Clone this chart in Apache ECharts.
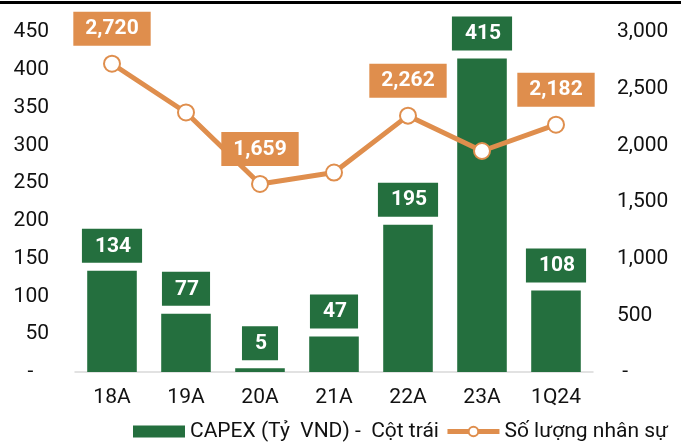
<!DOCTYPE html>
<html>
<head>
<meta charset="utf-8">
<script src="https://cdn.jsdelivr.net/npm/echarts@6/dist/echarts.min.js"></script>
<style>
  html, body { margin: 0; padding: 0; background: #fff; }
  #chart { width: 681px; height: 448px; }
</style>
</head>
<body>
<div id="chart"></div>
<script>
const categories = ['18A', '19A', '20A', '21A', '22A', '23A', '1Q24'];
const capex = [134, 77, 5, 47, 195, 415, 108];
const staff = [2720, 2290, 1659, 1760, 2262, 1950, 2182];
const staffLabelShown = [true, false, true, false, true, false, true];

const GREEN = '#246f3e';
const ORANGE = '#df8e4d';
const FONT = 'Roboto';

function fmt(v) {
  return v === 0 ? '-' : v.toLocaleString('en-US');
}

let chart = echarts.init(document.getElementById('chart'));
chart.setOption({
  animation: false,
  textStyle: { fontFamily: FONT },
  grid: { left: 75, right: 88, top: 32, bottom: 76 },
  graphic: [{
    type: 'rect',
    shape: { x: 0, y: 1, width: 681, height: 3 },
    style: { fill: '#000' }
  }],
  legend: {
    bottom: 1,
    left: 133,
    padding: [5, 0, 5, 0],
    itemGap: 6,
    itemWidth: 52,
    itemHeight: 12,
    textStyle: { fontSize: 21, color: '#111', fontFamily: FONT },
    data: [
      { name: 'CAPEX (Tỷ  VND) -  Cột trái', icon: 'rect' },
      {
        name: 'Số lượng nhân sự',
        lineStyle: { width: 5, color: ORANGE },
        itemStyle: { color: '#fff', borderColor: ORANGE, borderWidth: 2 }
      }
    ]
  },
  xAxis: {
    type: 'category',
    data: categories,
    axisTick: { show: false },
    axisLine: { lineStyle: { color: '#d9d9d9', width: 1.5 } },
    axisLabel: { color: '#111', fontSize: 21, margin: 15 }
  },
  yAxis: [{
    type: 'value',
    min: 0, max: 450, interval: 50,
    splitLine: { show: false },
    axisLine: { show: false },
    axisTick: { show: false },
    axisLabel: {
      color: '#111', fontSize: 21, margin: 26,
      formatter: v => v === 0 ? '-   ' : fmt(v)
    }
  }, {
    type: 'value',
    min: 0, max: 3000, interval: 500,
    splitLine: { show: false },
    axisLine: { show: false },
    axisTick: { show: false },
    axisLabel: {
      color: '#111', fontSize: 21, margin: 24, align: 'left',
      formatter: v => v === 0 ? ' -' : fmt(v)
    }
  }],
  series: [{
    name: 'CAPEX (Tỷ  VND) -  Cột trái',
    type: 'bar',
    data: capex,
    barCategoryGap: '33%',
    itemStyle: { color: GREEN },
    label: {
      show: true,
      position: 'top',
      distance: 8,
      backgroundColor: GREEN,
      color: '#fff',
      fontWeight: 'bold',
      fontSize: 21,
      padding: [7, 11, 6, 13]
    }
  }, {
    name: 'Số lượng nhân sự',
    type: 'line',
    yAxisIndex: 1,
    data: staff.map((v, i) => ({
      value: v,
      label: { show: staffLabelShown[i] }
    })),
    symbol: 'circle',
    symbolSize: 16,
    lineStyle: { color: ORANGE, width: 5 },
    itemStyle: { color: '#fff', borderColor: ORANGE, borderWidth: 2 },
    z: 5,
    label: {
      position: 'top',
      distance: 9,
      backgroundColor: ORANGE,
      color: '#fff',
      fontWeight: 'bold',
      fontSize: 21,
      padding: [7, 12, 6, 12],
      formatter: p => fmt(p.value)
    }
  }]
});
</script>
</body>
</html>
